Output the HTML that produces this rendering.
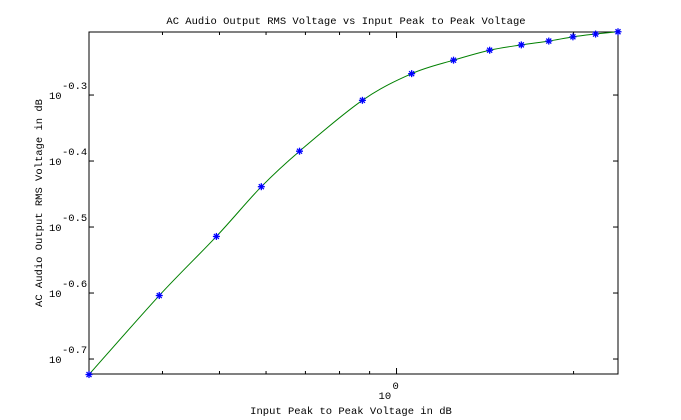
<!DOCTYPE html>
<html><head><meta charset="utf-8"><style>
html,body{margin:0;padding:0;background:#fff;}
svg{display:block;font-family:"Liberation Mono",monospace;}
</style></head><body>
<svg id="chart" width="681" height="420">
<rect x="0" y="0" width="681" height="420" fill="#fff"/>
<text x="346" y="24" font-size="10.5" text-anchor="middle">AC Audio Output RMS Voltage vs Input Peak to Peak Voltage</text>
<rect x="89" y="32" width="529" height="342" fill="#fff" stroke="#000" stroke-width="1"/>
<g id="yt"></g>
<g id="xt"></g>
<path id="line" fill="none" stroke="#008000" stroke-width="1"/>
<g id="pts"></g>
<text x="351" y="414" font-size="10.5" text-anchor="middle">Input Peak to Peak Voltage in dB</text>
<text transform="translate(42,203) rotate(-90)" font-size="10.5" text-anchor="middle">AC Audio Output RMS Voltage in dB</text>
</svg>
<script>
const xValues=[0.3,0.395,0.494,0.589,0.684,0.875,1.061,1.25,1.44,1.63,1.815,1.995,2.18,2.38];
const yValues=[0.189,0.249,0.306,0.364,0.412,0.492,0.540,0.566,0.586,0.597,0.605,0.614,0.620,0.625];
const yTickExps=[-0.3,-0.4,-0.5,-0.6,-0.7];
const xTickExps=[0];
const xMinorTicks=[0.4,0.5,0.6,0.7,0.8,0.9,2];
const X0=89,X1=618,Y0=374,Y1=32;
const xmin=Math.log10(0.3),xmax=Math.log10(2.38);
const ymin=-0.7227,ymax=-0.2045;
function sx(v){return X0+(Math.log10(v)-xmin)/(xmax-xmin)*(X1-X0);}
function sy(v){return Y0-(Math.log10(v)-ymin)/(ymax-ymin)*(Y0-Y1);}
function sye(e){return Y0-(e-ymin)/(ymax-ymin)*(Y0-Y1);}
function sxe(e){return X0+(e-xmin)/(xmax-xmin)*(X1-X0);}
const NS="http://www.w3.org/2000/svg";
function ln(g,x1,y1,x2,y2,c){const l=document.createElementNS(NS,'line');l.setAttribute('x1',x1);l.setAttribute('y1',y1);l.setAttribute('x2',x2);l.setAttribute('y2',y2);l.setAttribute('stroke',c);g.appendChild(l);return l;}
const yt=document.getElementById('yt');
yTickExps.forEach(e=>{
 const y=sye(e);
 const t1=document.createElementNS(NS,'text');
 
 
 t1.setAttribute('x',49);t1.setAttribute('y',y+4);t1.setAttribute('font-size','10.5');
 t1.textContent='10';yt.appendChild(t1);
 const t2=document.createElementNS(NS,'text');
 
 
 t2.setAttribute('x',62);t2.setAttribute('y',y-6);t2.setAttribute('font-size','10.5');
 t2.textContent=e.toFixed(1);yt.appendChild(t2);
 const l=ln(yt,X0,y,X0+5,y,'#000');
 
 
 const l2=ln(yt,X1-5,y,X1,y,'#000');
 
 
});
const xt=document.getElementById('xt');
xMinorTicks.forEach(v=>{
 const x=sx(v);
 const l=ln(xt,x,Y0,x,Y0-3,'#000');
 
 
 const l2=ln(xt,x,Y1,x,Y1+3,'#000');
 
 
});
xTickExps.forEach(e=>{
 const x=sxe(e);
 const l=ln(xt,x,Y0,x,Y0-6,'#000');
 
 
 const l2=ln(xt,x,Y1,x,Y1+6,'#000');
 
 
 const t1=document.createElementNS(NS,'text');
 
 
 t1.setAttribute('x',x-18);t1.setAttribute('y',399);t1.setAttribute('font-size','10.5');
 t1.textContent='10';xt.appendChild(t1);
 const t2=document.createElementNS(NS,'text');
 
 
 t2.setAttribute('x',x-4);t2.setAttribute('y',389);t2.setAttribute('font-size','10.5');
 t2.textContent=String(e);xt.appendChild(t2);
});
const P=xValues.map((v,i)=>[sx(v),sy(yValues[i])]);
let d='M'+P[0][0]+','+P[0][1];
for(let i=0;i<P.length-1;i++){
 const p0=P[Math.max(i-1,0)],p1=P[i],p2=P[i+1],p3=P[Math.min(i+2,P.length-1)];
 const c1=[p1[0]+(p2[0]-p0[0])/6,p1[1]+(p2[1]-p0[1])/6];
 const c2=[p2[0]-(p3[0]-p1[0])/6,p2[1]-(p3[1]-p1[1])/6];
 d+=' C'+c1+' '+c2+' '+p2;
}
document.getElementById('line').setAttribute('d',d);
const pts=document.getElementById('pts');
P.forEach(p=>{
 const g=document.createElementNS(NS,'g');
 
 
 const x=p[0],y=p[1],r=3.5;
 ln(g,x-r,y,x+r,y,'#0000ff');ln(g,x,y-r,x,y+r,'#0000ff');
 ln(g,x-2.5,y-2.5,x+2.5,y+2.5,'#0000ff');ln(g,x-2.5,y+2.5,x+2.5,y-2.5,'#0000ff');
 g.setAttribute('stroke-width','1.3');
 pts.appendChild(g);
});
</script>
</body></html>
